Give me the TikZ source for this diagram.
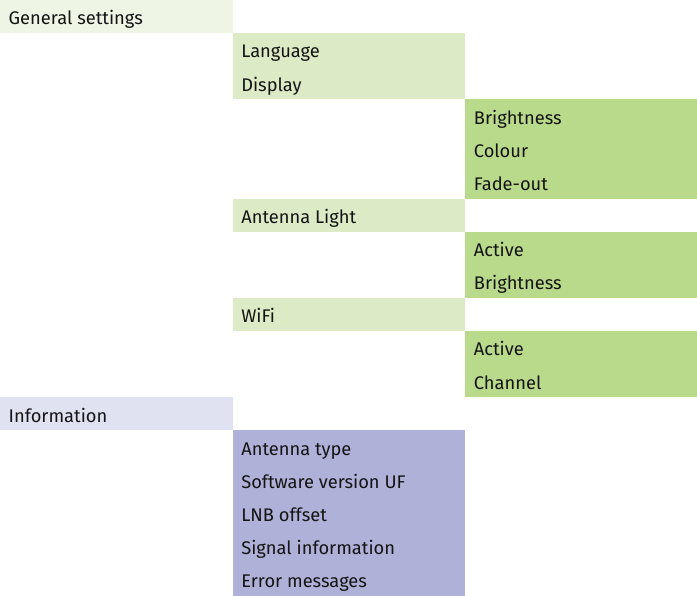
\documentclass[tikz,border=0pt]{standalone}
\usepackage{fontspec}
\setmainfont{Fira Sans}
\definecolor{setlvlA}{HTML}{EEF5E5}
\definecolor{setlvlB}{HTML}{DCEBC6}
\definecolor{setlvlC}{HTML}{B9D98B}
\definecolor{infolvlA}{HTML}{E0E2F2}
\definecolor{infolvlB}{HTML}{AFB1D8}
\definecolor{menutext}{HTML}{141414}
% column width and row height of the menu grid
\def\cw{232.6}
\def\rh{33.111}
\def\bl{24.8}
\begin{document}
\begin{tikzpicture}[x=1pt,y=-1pt,
  blk/.style={fill=#1, draw=none, inner sep=0pt, outer sep=0pt,
              anchor=north west, minimum width=\cw pt},
  item/.style={anchor=base west, inner sep=0pt, text=menutext,
               font=\fontsize{18.3}{22}\selectfont}]
\useasboundingbox (0,0) rectangle (697,596);

% coloured blocks: column, first row, number of rows
\node[blk=setlvlA,  minimum height=1*\rh pt] (bGen)  at (0*\cw, 0*\rh) {};
\node[blk=setlvlB,  minimum height=2*\rh pt] (bLang) at (1*\cw, 1*\rh) {};
\node[blk=setlvlC,  minimum height=3*\rh pt] (bDisp) at (2*\cw, 3*\rh) {};
\node[blk=setlvlB,  minimum height=1*\rh pt] (bAnt)  at (1*\cw, 6*\rh) {};
\node[blk=setlvlC,  minimum height=2*\rh pt] (bAntS) at (2*\cw, 7*\rh) {};
\node[blk=setlvlB,  minimum height=1*\rh pt] (bWifi) at (1*\cw, 9*\rh) {};
\node[blk=setlvlC,  minimum height=2*\rh pt] (bWifS) at (2*\cw,10*\rh) {};
\node[blk=infolvlA, minimum height=1*\rh pt] (bInfo) at (0*\cw,12*\rh) {};
\node[blk=infolvlB, minimum height=5*\rh pt] (bInfS) at (1*\cw,13*\rh) {};

% menu entries, baseline \bl below the top of their row
\node[item] (tGen)   at (0*\cw+8.5, 0*\rh+\bl) {General settings};
\node[item] (tLang)  at (1*\cw+8.5, 1*\rh+\bl) {Language};
\node[item] (tDisp)  at (1*\cw+8.5, 2*\rh+\bl) {Display};
\node[item] (tBri)   at (2*\cw+8.5, 3*\rh+\bl) {Brightness};
\node[item] (tCol)   at (2*\cw+8.5, 4*\rh+\bl) {Colour};
\node[item] (tFade)  at (2*\cw+8.5, 5*\rh+\bl) {Fade-out};
\node[item] (tAnt)   at (1*\cw+8.5, 6*\rh+\bl) {Antenna Light};
\node[item] (tAAct)  at (2*\cw+8.5, 7*\rh+\bl) {Active};
\node[item] (tABri)  at (2*\cw+8.5, 8*\rh+\bl) {Brightness};
\node[item] (tWifi)  at (1*\cw+8.5, 9*\rh+\bl) {WiFi};
\node[item] (tWAct)  at (2*\cw+8.5,10*\rh+\bl) {Active};
\node[item] (tWChn)  at (2*\cw+8.5,11*\rh+\bl) {Channel};
\node[item] (tInfo)  at (0*\cw+8.5,12*\rh+\bl) {Information};
\node[item] (tAType) at (1*\cw+8.5,13*\rh+\bl) {Antenna type};
\node[item] (tSoft)  at (1*\cw+8.5,14*\rh+\bl) {Software version UF};
\node[item] (tLnb)   at (1*\cw+8.5,15*\rh+\bl) {LNB offset};
\node[item] (tSig)   at (1*\cw+8.5,16*\rh+\bl) {Signal information};
\node[item] (tErr)   at (1*\cw+8.5,17*\rh+\bl) {Error messages};
\end{tikzpicture}
\end{document}
